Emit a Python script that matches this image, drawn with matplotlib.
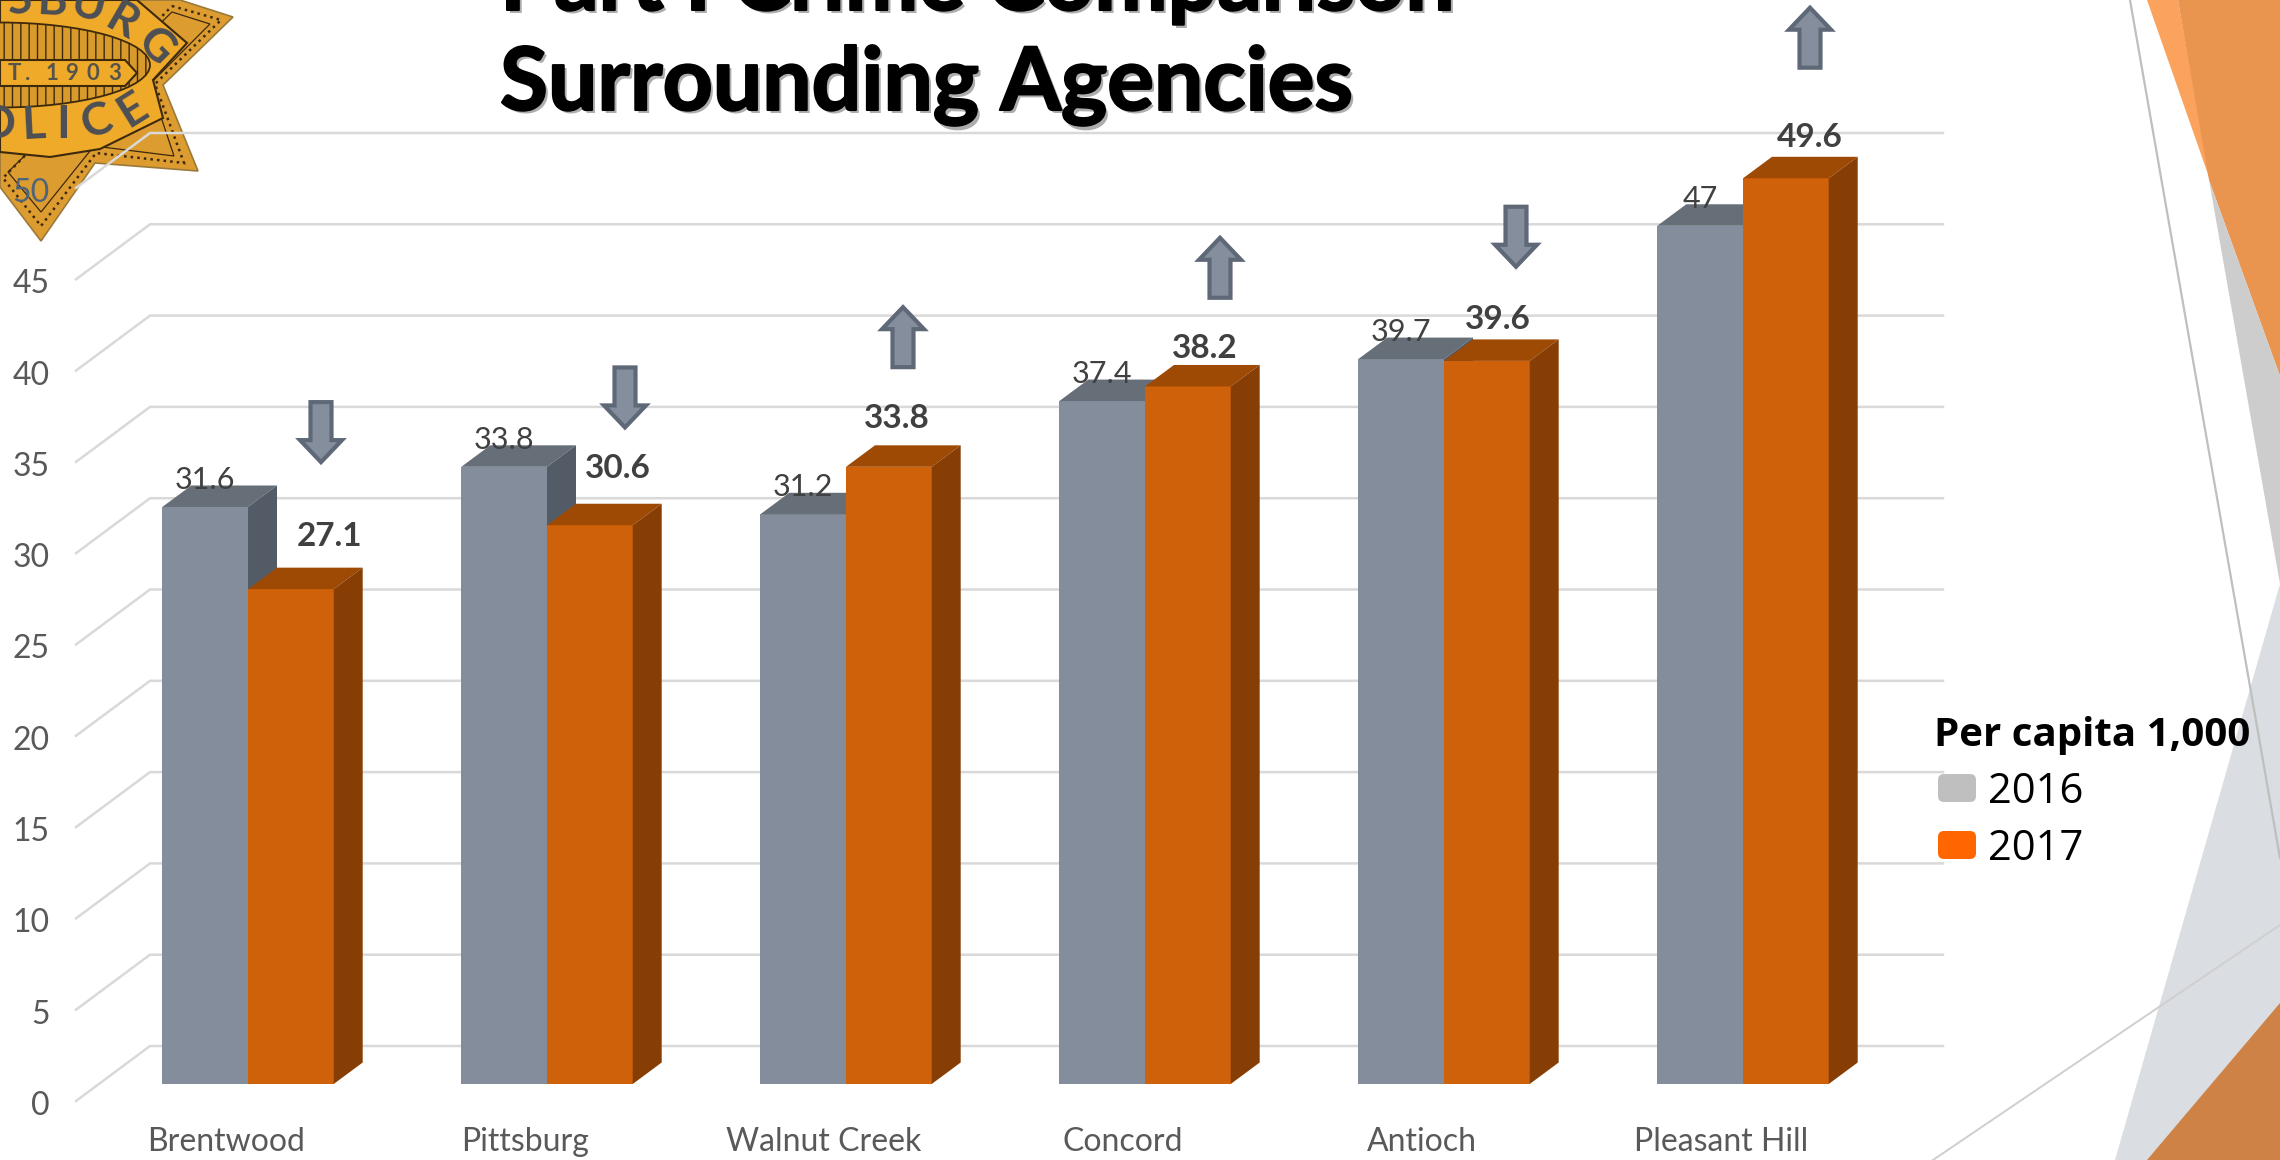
import matplotlib
matplotlib.use('Agg')
import matplotlib.pyplot as plt
import matplotlib.patheffects as pe
from matplotlib.patches import Polygon, FancyBboxPatch, Ellipse
from matplotlib.transforms import Affine2D

# --- Data ---
agencies = ['Brentwood', 'Pittsburg', 'Walnut Creek', 'Concord', 'Antioch', 'Pleasant Hill']
rate_2016 = [31.6, 33.8, 31.2, 37.4, 39.7, 47]
rate_2017 = [27.1, 30.6, 33.8, 38.2, 39.6, 49.6]
y_ticks = [0, 5, 10, 15, 20, 25, 30, 35, 40, 45, 50]

# --- Layout, all in reference pixels ---
W, H = 2280, 1160
GROUP0_X = 248      # pixel x of the first group's centre
GROUP_STEP = 299    # pixels between groups
BASE_Y = 1084       # pixel y of value 0 at the bar front
UNIT = 18.26        # pixels per unit of value

BAR_W = 85.7 / GROUP_STEP
DEPTH_X = 29 / GROUP_STEP
DEPTH_Y = 21.5 / UNIT

# per-group placing of the arrows and of the bold 2017 labels
arrow_dx = [73, 78, 57, 75, 72, 67]
arrow_y = [35.7, 37.6, 40.9, 44.7, 46.4, 57.3]
label_dx = [39, 28, 8, 17, 11, 24]
label_lift = [43, 47, 39, 28, 32, 31]

GRID = '#d9d9d9'
TICK = '#595959'
GRAY_FACES = ('#848d9b', '#666e78', '#535b66')
ORANGE_FACES = ('#d0610b', '#9e4a05', '#873e04')
FONT = 'Lato'


def draw_bar(ax, x, width, value, faces):
    front, top, side = faces
    ax.bar(x, value, width, align='edge', color=front, linewidth=0, zorder=3)
    ax.fill([x, x + DEPTH_X, x + width + DEPTH_X, x + width],
            [value, value + DEPTH_Y, value + DEPTH_Y, value],
            color=top, linewidth=0, zorder=3)
    ax.fill([x + width, x + width + DEPTH_X, x + width + DEPTH_X, x + width],
            [0, DEPTH_Y, value + DEPTH_Y, value],
            color=side, linewidth=0, zorder=3)


def draw_arrow(ax, x, y, up):
    # arrow outline in pixels around its centre, then into data units
    s = 1 if up else -1
    hw, sw, hh, total = 21, 10.5, 22, 60
    pts = [(0, total / 2), (hw, total / 2 - hh), (sw, total / 2 - hh),
           (sw, -total / 2), (-sw, -total / 2), (-sw, total / 2 - hh),
           (-hw, total / 2 - hh)]
    xs = [x + p[0] / GROUP_STEP for p in pts]
    ys = [y + s * p[1] / UNIT for p in pts]
    ax.fill(xs, ys, facecolor='#858e9c', edgecolor='#5f6877', linewidth=3,
            joinstyle='miter', zorder=4)


def draw_background(fig, px):
    shapes = [
        ([(2147, 0), (2178, 0), (2210, 180)], '#fba25c'),
        ([(2178, 0), (2280, 0), (2280, 376), (2209, 180)], '#e9954f'),
        ([(2209, 180), (2280, 376), (2280, 584)], '#cdcdcd'),
        ([(2280, 584), (2115, 1160), (2280, 1160)], '#dadde1'),
        ([(2147, 1160), (2280, 1003), (2280, 1160)], '#cf8246'),
    ]
    for pts, color in shapes:
        fig.add_artist(Polygon(pts, closed=True, transform=px, facecolor=color,
                               linewidth=0, zorder=0))
    fig.add_artist(plt.Line2D([2130, 2280], [0, 858], transform=px,
                              color='#bfbfbf', linewidth=1.6, zorder=0))
    fig.add_artist(plt.Line2D([1933, 2280], [1160, 925], transform=px,
                              color='#cfcfcf', linewidth=1.4, zorder=0))


def draw_badge(fig, px):
    dark = '#3d2a0c'
    star = [(180, 0), (233, 17), (163, 85), (198, 171), (95, 163), (41, 241),
            (0, 187), (0, 0)]
    fig.add_artist(Polygon(star, closed=True, transform=px, facecolor='#dd9c30',
                           edgecolor='#9a7a3a', linewidth=1.2, zorder=0))
    inner = [(172, 6), (221, 20), (155, 84), (184, 163), (96, 153), (41, 226),
             (3, 178)]
    fig.add_artist(Polygon(inner, closed=True, transform=px, fill=False,
                           edgecolor=dark, linewidth=1.8, linestyle=':', zorder=0))
    inner2 = [(172, 12), (210, 24), (150, 84), (174, 156), (94, 146), (41, 212), (8, 172)]
    fig.add_artist(Polygon(inner2, closed=True, transform=px, fill=False,
                           edgecolor=dark, linewidth=0.9, zorder=0))
    # round centre of the badge
    band = [(0, 0), (137, 0), (187, 43), (153, 80), (163, 118), (100, 149), (50, 157), (0, 152)]
    fig.add_artist(Polygon(band, closed=True, transform=px, facecolor='#efaa2a',
                           edgecolor=dark, linewidth=1.5, zorder=0))
    fig.add_artist(Ellipse((0, 65), 300, 85, transform=px, facecolor='#d99a2c',
                           edgecolor=dark, hatch='||', linewidth=1.3, zorder=0))
    fig.add_artist(Polygon([(0, 60), (125, 60), (137, 73), (125, 86), (0, 86)],
                           closed=True, transform=px, facecolor='#efaa2a',
                           edgecolor=dark, linewidth=1.5, zorder=0))
    letters = [('S', 20, 0, 8), ('B', 52, 2, -3), ('U', 88, 6, -14), ('R', 122, 22, -30),
               ('G', 155, 47, -45), ('L', 33, 125, 3), ('I', 63, 125, 0), ('C', 97, 122, 18),
               ('E', 133, 110, 32), ('O', -4, 125, -3)]
    for ch, x, y, rot in letters:
        t = fig.text(0, 0, ch, fontsize=33, fontweight='bold', color='#4c4f55', family=FONT,
                     ha='center', va='center', rotation=rot, zorder=0)
        t.set_transform(Affine2D().translate(x, y) + px)
    for ch, x in [('T', 14), ('.', 28), ('1', 52), ('9', 72), ('0', 93), ('3', 115)]:
        t = fig.text(0, 0, ch, fontsize=16, fontweight='bold', color='#55534c', family=FONT,
                     ha='center', va='center', zorder=0)
        t.set_transform(Affine2D().translate(x, 73) + px)


def main():
    fig = plt.figure(figsize=(W / 100, H / 100), dpi=100, facecolor='white')
    # pixels of the reference (y down) into figure coordinates
    px = Affine2D().scale(1 / W, -1 / H).translate(0, 1) + fig.transFigure

    draw_background(fig, px)
    draw_badge(fig, px)

    ax = fig.add_axes([0, 0, 1, 1])
    ax.set_xlim(-GROUP0_X / GROUP_STEP, (W - GROUP0_X) / GROUP_STEP)
    ax.set_ylim((BASE_Y - H) / UNIT, BASE_Y / UNIT)
    ax.axis('off')
    ax.patch.set_alpha(0)

    # Gridlines: along the floor to the back wall, then across it
    back_x = (150 - GROUP0_X) / GROUP_STEP
    front_x = (76 - GROUP0_X) / GROUP_STEP
    right_x = (1943 - GROUP0_X) / GROUP_STEP
    back_dy = (BASE_Y - 1046) / UNIT
    front_dy = (BASE_Y - 1101) / UNIT
    for v in y_ticks:
        ax.plot([front_x, back_x, right_x], [v + front_dy, v + back_dy, v + back_dy],
                color=GRID, linewidth=1.8, solid_joinstyle='miter', zorder=1)
        ax.text((50 - GROUP0_X) / GROUP_STEP, v + front_dy - 0.27, str(v), ha='right', va='center',
                fontsize=23, family=FONT, zorder=5,
                color='#4f6478' if v == 50 else TICK)

    for i, name in enumerate(agencies):
        draw_bar(ax, i - BAR_W, BAR_W, rate_2016[i], GRAY_FACES)
        draw_bar(ax, i, BAR_W, rate_2017[i], ORANGE_FACES)

        ax.text(i - BAR_W / 2, rate_2016[i] + 18 / UNIT, str(rate_2016[i]), ha='center', va='baseline',
                fontsize=22, family=FONT, color='#404040', zorder=5)
        ax.text(i + BAR_W / 2 + label_dx[i] / GROUP_STEP, rate_2017[i] + label_lift[i] / UNIT,
                str(rate_2017[i]), ha='center', va='baseline', fontsize=24, fontweight='bold',
                family=FONT, color='#404040', zorder=5)
        ax.text(i - 22 / GROUP_STEP, (BASE_Y - 1151) / UNIT, name, ha='center', va='baseline',
                fontsize=23, family=FONT, color=TICK, zorder=5)
        draw_arrow(ax, i + arrow_dx[i] / GROUP_STEP, arrow_y[i], rate_2017[i] > rate_2016[i])

    # Title, its first line runs off the top of the slide
    for line, y in [('Part I Crime Comparison', 10), ('Surrounding Agencies', 110)]:
        s = fig.text(0, 0, line, fontsize=63, fontweight='bold', family=FONT,
                     color='#777777', alpha=0.6, ha='left', va='baseline', zorder=6)
        s.set_transform(Affine2D().translate(503, y + 3) + px)
        t = fig.text(0, 0, line, fontsize=63, fontweight='bold', family=FONT,
                     color='black', ha='left', va='baseline', zorder=6)
        t.set_transform(Affine2D().translate(500, y) + px)
        t.set_path_effects([pe.withStroke(linewidth=1.5, foreground='black')])

    # Legend
    t = fig.text(0, 0, 'Per capita 1,000', fontsize=29, fontweight='bold', family='Open Sans',
                 color='black', ha='left', va='baseline', zorder=6)
    t.set_transform(Affine2D().translate(1934, 746) + px)
    for label, color, top in [('2016', '#bfbfbf', 774), ('2017', '#ff6600', 831)]:
        fig.add_artist(FancyBboxPatch((1942, top + 4), 30, 20, boxstyle='round,pad=4,rounding_size=6',
                                      transform=px, facecolor=color, linewidth=0, zorder=6))
        t = fig.text(0, 0, label, fontsize=30, family='Open Sans', color='black',
                     ha='left', va='baseline', zorder=6)
        t.set_transform(Affine2D().translate(1988, top + 29) + px)

    fig.savefig('out.png', dpi=100)


if __name__ == "__main__":
    main()
